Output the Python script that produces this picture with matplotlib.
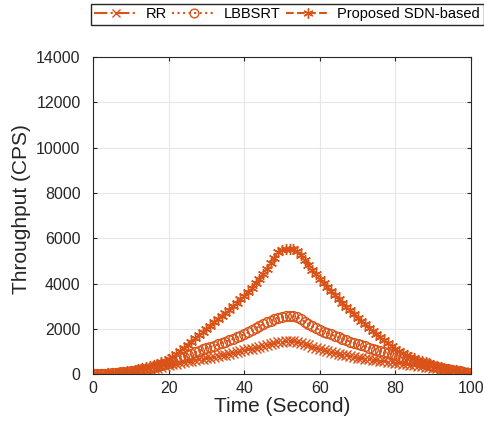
import numpy as np
import matplotlib
matplotlib.use("Agg")
from matplotlib import pyplot as plt

plt.rcParams["font.family"] = ["Liberation Sans", "DejaVu Sans"]

ORANGE = "#D95319"

time_s = np.arange(0, 101)

rr = [
    0, 4, 9, 15, 23, 32, 43, 56, 71, 89,
    110, 132, 155, 180, 205, 230, 258, 287, 317, 348,
    380, 425, 468, 510, 538, 566, 594, 622, 650, 675,
    700, 730, 760, 795, 830, 865, 900, 935, 975, 1012,
    1050, 1088, 1126, 1164, 1202, 1240, 1285, 1330, 1375, 1420,
    1440, 1450, 1455, 1450, 1430, 1375, 1320, 1265, 1210, 1155,
    1100, 1060, 1020, 980, 940, 900, 865, 830, 795, 762,
    730, 705, 680, 656, 633, 610, 587, 564, 542, 520,
    500, 480, 460, 440, 420, 400, 378, 356, 334, 312,
    290, 264, 238, 212, 186, 160, 134, 108, 82, 56,
    30,
]

lbbsrt = [
    0, 5, 10, 17, 26, 37, 50, 65, 82, 104,
    130, 155, 182, 212, 245, 280, 320, 362, 405, 452,
    500, 565, 632, 700, 765, 830, 895, 960, 1025, 1090,
    1150, 1200, 1250, 1310, 1370, 1430, 1490, 1555, 1620, 1685,
    1750, 1840, 1930, 2020, 2110, 2200, 2280, 2360, 2430, 2500,
    2530, 2550, 2560, 2550, 2520, 2420, 2320, 2220, 2120, 2030,
    1950, 1880, 1815, 1750, 1685, 1620, 1560, 1500, 1440, 1380,
    1320, 1270, 1220, 1170, 1125, 1080, 1030, 980, 930, 880,
    830, 775, 720, 665, 610, 560, 515, 475, 435, 390,
    350, 315, 280, 245, 210, 180, 150, 120, 90, 60,
    30,
]

proposed = [
    0, 5, 10, 18, 28, 40, 55, 72, 92, 118,
    150, 185, 222, 262, 305, 350, 400, 455, 515, 580,
    650, 760, 880, 1000, 1150, 1300, 1440, 1580, 1720, 1860,
    2000, 2140, 2280, 2420, 2560, 2700, 2850, 3000, 3150, 3300,
    3450, 3630, 3820, 4010, 4200, 4400, 4650, 4900, 5150, 5400,
    5500, 5520, 5530, 5510, 5450, 5250, 5040, 4830, 4620, 4410,
    4200, 4020, 3840, 3660, 3480, 3300, 3140, 2980, 2820, 2660,
    2500, 2350, 2200, 2050, 1900, 1750, 1620, 1490, 1360, 1230,
    1100, 1010, 930, 850, 770, 700, 640, 585, 530, 475,
    420, 375, 330, 285, 240, 200, 165, 130, 95, 60,
    30,
]

# MATLAB-style asterisk: six spokes
ASTERISK = (6, 2, 0)

fig = plt.figure(figsize=(4.85, 4.30), dpi=100)
ax = fig.add_axes([0.192, 0.130, 0.779, 0.737])

ax.plot(time_s, rr, color=ORANGE, linestyle="-.", marker="x",
        markersize=7, markeredgewidth=1.0, linewidth=1.5, label="RR")
ax.plot(time_s, lbbsrt, color=ORANGE, linestyle=":", marker="o",
        markersize=7, markerfacecolor="none", markeredgewidth=1.0,
        linewidth=1.5, label="LBBSRT")
ax.plot(time_s, proposed, color=ORANGE, linestyle="--", marker=ASTERISK,
        markersize=8, markeredgewidth=1.0, linewidth=1.5,
        label="Proposed SDN-based")

ax.set_xlim(0, 100)
ax.set_ylim(0, 14000)
ax.set_xticks(range(0, 101, 20))
ax.set_yticks(range(0, 14001, 2000))
ax.grid(True, color="#e6e6e6", linewidth=0.8)
ax.set_axisbelow(True)
for s in ax.spines.values():
    s.set_color("#262626")
    s.set_linewidth(0.8)
ax.tick_params(direction="in", length=3, labelsize=11.5, colors="#262626",
               top=True, right=True, labeltop=False, labelright=False)
ax.tick_params(axis="y", pad=9)
ax.tick_params(axis="x", pad=5)
ax.set_xlabel("Time (Second)", fontsize=15, color="#262626", labelpad=1)
ax.set_ylabel("Throughput (CPS)", fontsize=15, color="#262626", labelpad=5)
ax.yaxis.set_label_coords(-0.165, 0.52)

fig.legend(loc="upper right", bbox_to_anchor=(1.012, 1.008), ncol=3,
           fontsize=10.5, frameon=True, fancybox=False, edgecolor="#262626",
           framealpha=1, handlelength=3.0, columnspacing=0.4,
           handletextpad=0.5, borderpad=0.25, markerscale=0.9)

fig.savefig("out.png", dpi=100)
